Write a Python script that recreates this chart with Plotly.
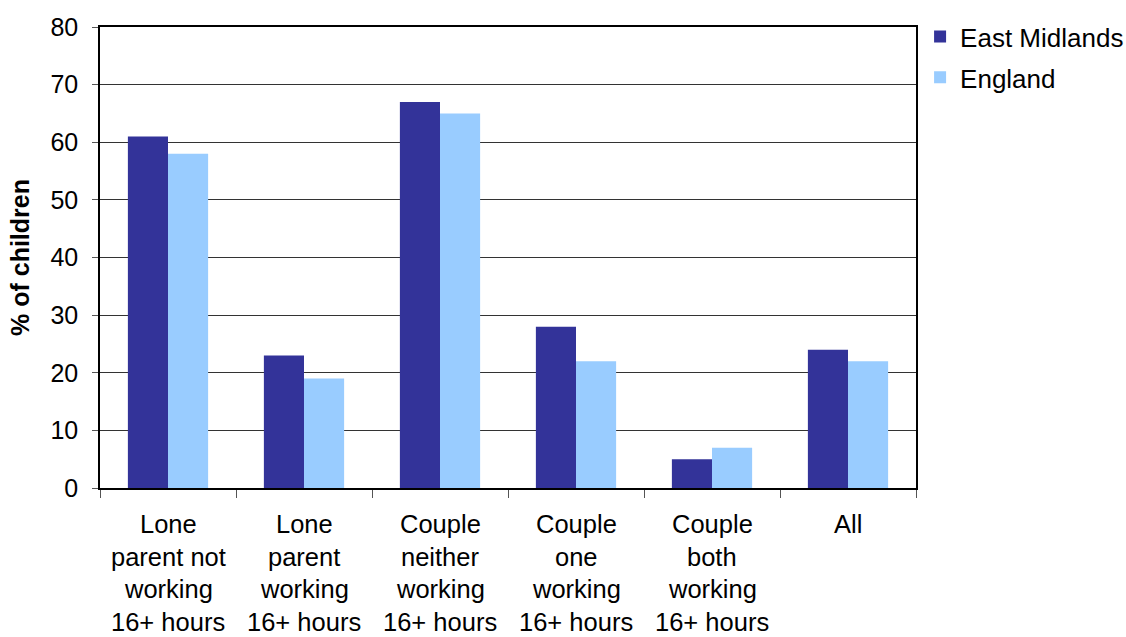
import plotly.graph_objects as go

categories = ["Lone parent not working 16+ hours", "Lone parent working 16+ hours",
              "Couple neither working 16+ hours", "Couple one working 16+ hours",
              "Couple both working 16+ hours", "All"]
label_lines = [["Lone", "parent not", "working", "16+ hours"],
               ["Lone", "parent", "working", "16+ hours"],
               ["Couple", "neither", "working", "16+ hours"],
               ["Couple", "one", "working", "16+ hours"],
               ["Couple", "both", "working", "16+ hours"],
               ["All"]]
east_midlands = [61, 23, 67, 28, 5, 24]
england = [58, 19, 65, 22, 7, 22]
y_ticks = [0, 10, 20, 30, 40, 50, 60, 70, 80]

FONT = "Liberation Sans, Arial, sans-serif"

fig = go.Figure()
fig.add_trace(go.Bar(x=categories, y=east_midlands, name="East Midlands",
                     marker=dict(color="#333399", line=dict(width=0)), legendgroup="a"))
fig.add_trace(go.Bar(x=categories, y=england, name="England",
                     marker=dict(color="#99CCFF", line=dict(width=0)), legendgroup="b"))

annotations = []
for cat, lines in zip(categories, label_lines):
    for i, ln in enumerate(lines):
        annotations.append(dict(x=cat, xref="x", y=0, yref="paper", text=ln,
                                showarrow=False, yanchor="middle", xanchor="center",
                                yshift=-36 - 32.5 * i, borderpad=0,
                                font=dict(family=FONT, size=25.5, color="black")))

fig.update_layout(
    width=1126, height=637,
    margin=dict(l=100, r=210, t=27, b=149, autoexpand=False),
    paper_bgcolor="white", plot_bgcolor="white",
    barmode="group", bargap=0.41, bargroupgap=0,
    font=dict(family=FONT, size=26, color="black"),
    showlegend=True,
    legend=dict(x=1.005, y=1.03, xanchor="left", yanchor="top",
                bgcolor="rgba(0,0,0,0)",
                font=dict(family=FONT, size=26, color="black"),
                tracegroupgap=4, itemwidth=30),
    annotations=annotations,
)
fig.update_xaxes(showticklabels=False, tickson="boundaries", ticks="outside", ticklen=8,
                 tickcolor="#555", showline=True, linecolor="black", linewidth=1.5,
                 mirror=True, showgrid=False)
fig.update_yaxes(range=[0, 80], tickvals=y_ticks, ticks="outside", ticklen=6,
                 tickcolor="#555", showline=True, linecolor="black", linewidth=1.5,
                 mirror=True, showgrid=True, gridcolor="#333", gridwidth=1,
                 tickfont=dict(family=FONT, size=25), zeroline=False,
                 ticklabelstandoff=9,
                 title=dict(text="<b>% of children</b>", font=dict(family=FONT, size=25),
                            standoff=14))

fig.write_html("out.html", config={"displayModeBar": False},
               post_script="document.body.style.margin='0';document.body.style.overflow='hidden';")
